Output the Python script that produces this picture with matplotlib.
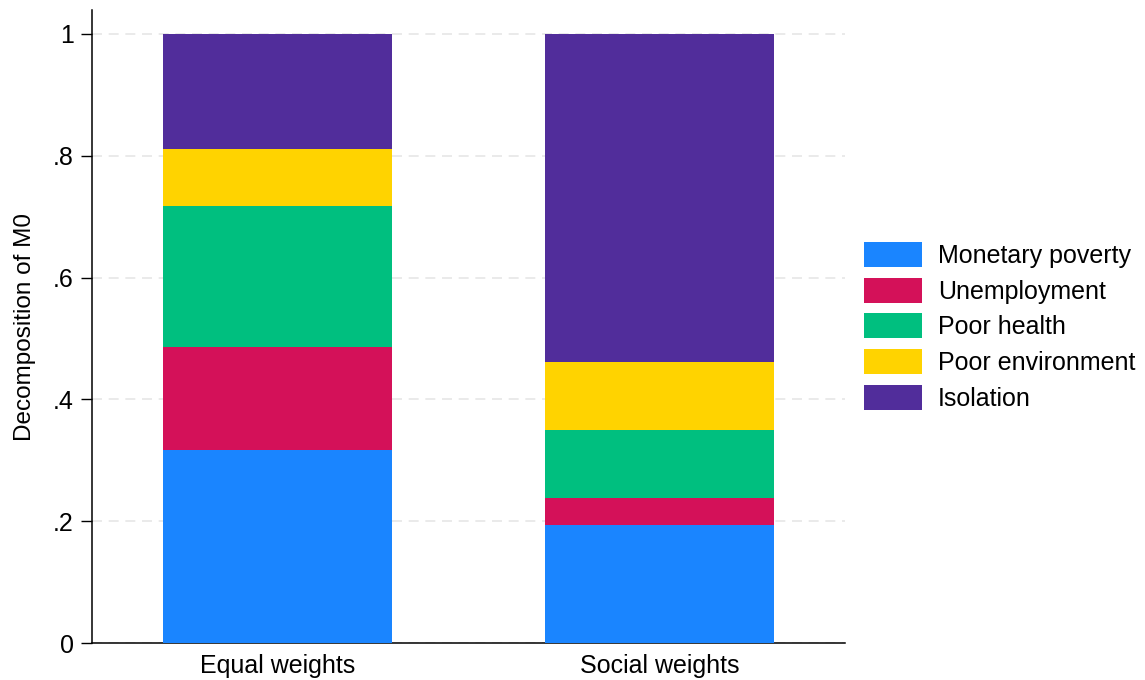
import matplotlib
matplotlib.use("Agg")
import matplotlib.pyplot as plt
import numpy as np

categories = ["Equal weights", "Social weights"]
components = ["Monetary poverty", "Unemployment", "Poor health", "Poor environment", "Isolation"]
monetary = [0.317, 0.193]
unemployment = [0.169, 0.045]
health = [0.232, 0.112]
environment = [0.093, 0.111]
isolation = [0.189, 0.539]
colors = ["#1A85FF", "#D41159", "#00BF7F", "#FFD300", "#512D9B"]

plt.rcParams['font.family'] = ['Liberation Sans', 'DejaVu Sans']

fig = plt.figure(figsize=(11.45, 6.8), dpi=100)
ax = fig.add_axes([0.0803, 0.0544, 0.738 - 0.0803, 0.985 - 0.0544])

x = np.arange(len(categories))
bottom = np.zeros(len(categories))
series = [monetary, unemployment, health, environment, isolation]
handles = []
for vals, name, c in zip(series, components, colors):
    h = ax.bar(x, vals, bottom=bottom, width=0.6, color=c, label=name, zorder=3)
    handles.append(h)
    bottom += np.array(vals)

ax.set_xlim(-0.4855, 1.4855)
ax.set_ylim(0, 1.039)
ax.set_yticks([0, 0.2, 0.4, 0.6, 0.8, 1.0])
ax.set_yticklabels(["0", ".2", ".4", ".6", ".8", "1"])
ax.set_xticks(x)
ax.set_xticklabels(categories)
ax.tick_params(axis='y', direction='out', length=8, width=1, labelsize=18, pad=5)
ax.tick_params(axis='x', length=0, labelsize=18, pad=8)
ax.grid(axis='y', color='#E6E6E6', linestyle=(0, (6, 4)), linewidth=1.2, zorder=0)
for s in ['top', 'right']:
    ax.spines[s].set_visible(False)
ax.spines['left'].set_linewidth(1.1)
ax.spines['bottom'].set_linewidth(1.1)
ax.set_ylabel("Decomposition of M0", fontsize=17.5, labelpad=12)

fig.legend(handles=handles, labels=components, loc='center left',
           bbox_to_anchor=(0.7546, 0.52), frameon=False, fontsize=18,
           handlelength=2.32, handleheight=1.15, handletextpad=0.64,
           labelspacing=0.39, borderaxespad=0, borderpad=0)

fig.savefig("out.png", dpi=100, facecolor='white')
